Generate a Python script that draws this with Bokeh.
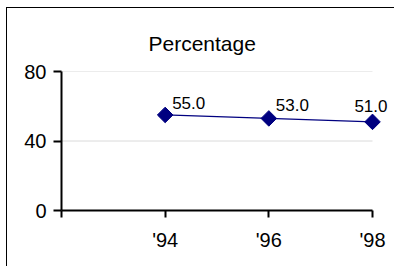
from bokeh.plotting import figure
from bokeh.models import FixedTicker, ColumnDataSource, Range1d
from bokeh.embed import file_html
from bokeh.resources import INLINE
from bokeh.core.properties import value
import numpy as np

# ---- data ----
years = ["'94", "'96", "'98"]
percent = [55.0, 53.0, 51.0]
y_ticks = [0, 40, 80]
title_text = "Percentage"

# ---- layout ----
FONT = "Liberation Sans"
NAVY = "#000080"
frame_w = 330
axis_len = 311
frame_h = 139

n = len(years)
xs = list(range(1, n + 1))
x_end = n * frame_w / axis_len

p = figure(
    width=387, height=258,
    frame_width=frame_w, frame_height=frame_h,
    min_border_left=54, min_border_top=63, min_border_right=3, min_border_bottom=56,
    x_range=Range1d(0, x_end), y_range=Range1d(y_ticks[0], y_ticks[-1]),
    output_backend="svg", toolbar_location=None,
)
p.styles = {"margin-left": "6px", "margin-top": "7px",
            "border-left": "1.5px solid #000", "border-top": "1.5px solid #000"}
p.outline_line_color = None
p.background_fill_color = "white"
p.border_fill_color = "white"
p.xgrid.visible = False
p.ygrid.visible = False

# title
p.title.text = title_text
p.title.text_font = FONT
p.title.text_font_size = "21px"
p.title.text_font_style = "normal"
p.title.text_color = "black"
p.title.align = "left"
p.title.offset = 87
p.title.standoff = 33

# gridlines limited to the category span
p.segment(x0=0, x1=n, y0=y_ticks[1:], y1=y_ticks[1:], line_color="#dadada", line_width=1)

# series; the last label is kept inside the chart area (right-aligned, lifted)
src = ColumnDataSource(dict(
    x=xs, y=percent,
    label=[f"{v:.1f}" for v in percent],
    align=["left"] * (n - 1) + ["right"],
    dx=[7] * (n - 1) + [15],
    dy=[-12, -13, -16],
))
p.line("x", "y", source=src, line_color=NAVY, line_width=1.2)
p.scatter("x", "y", source=src, marker="square", angle=np.pi / 4, size=11,
          fill_color=NAVY, line_color=NAVY)
p.text("x", "y", text="label", source=src, text_align="align", text_baseline="alphabetic",
       x_offset="dx", y_offset="dy", text_font=value(FONT), text_font_size="17px", text_color="black")

# axes
for ax in (p.xaxis[0], p.yaxis[0]):
    ax.axis_line_width = 2
    ax.axis_line_color = "black"
    ax.major_tick_line_width = 2
    ax.major_tick_line_color = "black"
    ax.major_tick_in = 0
    ax.minor_tick_line_color = None
    ax.major_label_text_font = FONT
    ax.major_label_text_font_size = "20px"
    ax.major_label_text_color = "black"

p.xaxis.bounds = (0, n)
p.xaxis.ticker = FixedTicker(ticks=list(range(0, n + 1)))
p.xaxis.major_label_overrides = {0: ""} | {i + 1: y for i, y in enumerate(years)}
p.xaxis.major_tick_out = 7
p.xaxis.major_label_standoff = 11

p.yaxis.ticker = FixedTicker(ticks=y_ticks)
p.yaxis.major_tick_out = 8
p.yaxis.major_label_standoff = 7

open("out.html", "w").write(file_html(p, INLINE))
